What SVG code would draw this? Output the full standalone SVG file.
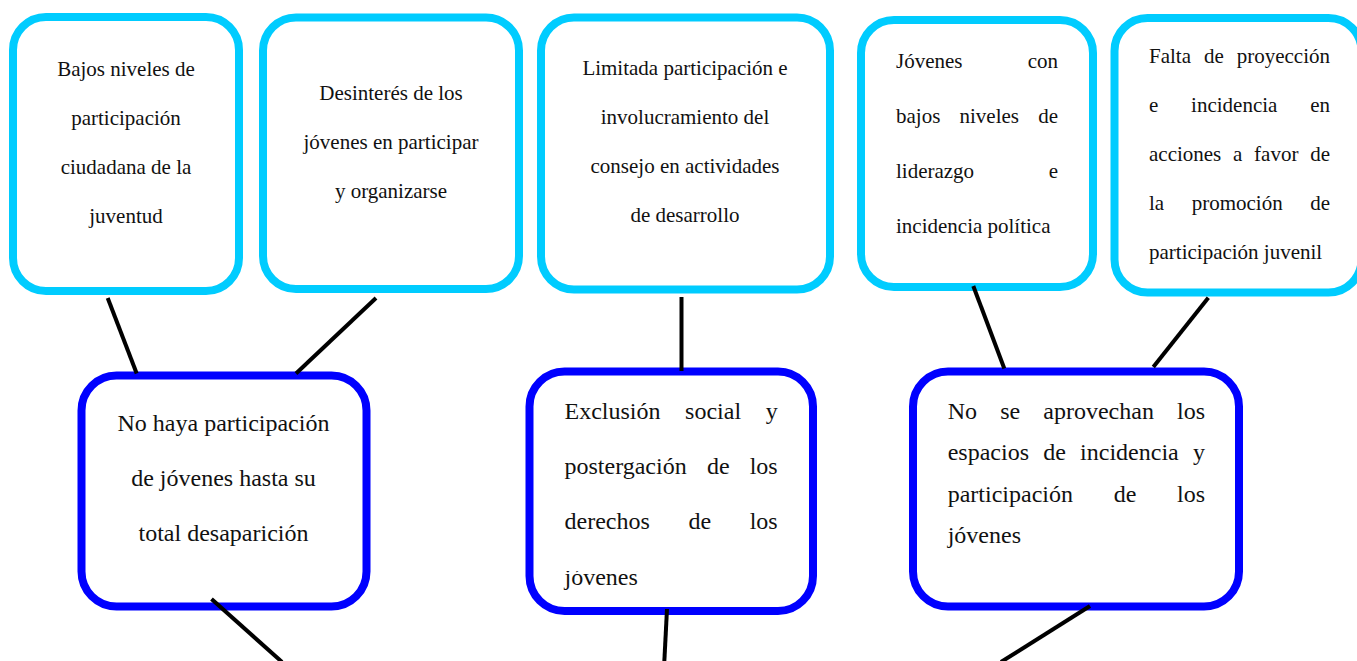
<svg xmlns="http://www.w3.org/2000/svg" width="1357" height="661" viewBox="0 0 1357 661">
<style>
.top{fill:#fff;stroke:#00ccff;stroke-width:8}
.bot{fill:#fff;stroke:#0000ff;stroke-width:8}
.t21{font-family:"Liberation Serif","Times New Roman",serif;font-size:21px;fill:#111}
.t24{font-family:"Liberation Serif","Times New Roman",serif;font-size:24px;fill:#111}
.c{text-anchor:middle}
.e{text-anchor:end}
.ln{stroke:#000;stroke-width:4;fill:none}
</style>
<defs>
<clipPath id="clipB2"><rect x="520" y="571" width="300" height="36"/></clipPath>
</defs>
<rect width="1357" height="661" fill="#fff"/>
<g id="n1">
<rect class="top" x="13" y="17" width="226" height="274" rx="33"/>
<text class="t21 c" x="126" y="76">Bajos niveles de</text>
<text class="t21 c" x="126" y="125">participación</text>
<text class="t21 c" x="126" y="174">ciudadana de la</text>
<text class="t21 c" x="126" y="223">juventud</text>
</g>
<g id="n2">
<rect class="top" x="263" y="17.5" width="256" height="271.5" rx="33"/>
<text class="t21 c" x="391" y="100">Desinterés de los</text>
<text class="t21 c" x="391" y="149">jóvenes en participar</text>
<text class="t21 c" x="391" y="198">y organizarse</text>
</g>
<g id="n3">
<rect class="top" x="541" y="17.5" width="289" height="272" rx="33"/>
<text class="t21 c" x="685" y="75">Limitada participación e</text>
<text class="t21 c" x="685" y="124">involucramiento del</text>
<text class="t21 c" x="685" y="173">consejo en actividades</text>
<text class="t21 c" x="685" y="222">de desarrollo</text>
</g>
<g id="n4">
<rect class="top" x="861" y="20" width="232" height="267" rx="33"/>
<text class="t21" x="896" y="68">Jóvenes</text>
<text class="t21 e" x="1058" y="68">con</text>
<text class="t21" x="896" y="123">bajos</text>
<text class="t21" x="959.5" y="123">niveles</text>
<text class="t21 e" x="1058" y="123">de</text>
<text class="t21" x="896" y="178">liderazgo</text>
<text class="t21 e" x="1058" y="178">e</text>
<text class="t21" x="896" y="232.5">incidencia política</text>
</g>
<g id="n5">
<rect class="top" x="1114.5" y="18" width="247" height="274.5" rx="33"/>
<text class="t21" x="1149" y="63">Falta</text>
<text class="t21" x="1203.9" y="63">de</text>
<text class="t21 e" x="1330" y="63">proyección</text>
<text class="t21" x="1149" y="112">e</text>
<text class="t21" x="1191.1" y="112">incidencia</text>
<text class="t21 e" x="1330" y="112">en</text>
<text class="t21" x="1149" y="161">acciones</text>
<text class="t21" x="1233" y="161">a</text>
<text class="t21" x="1254.1" y="161">favor</text>
<text class="t21 e" x="1330" y="161">de</text>
<text class="t21" x="1149" y="210">la</text>
<text class="t21" x="1191.7" y="210">promoción</text>
<text class="t21 e" x="1330" y="210">de</text>
<text class="t21" x="1149" y="259">participación juvenil</text>
</g>
<g id="n6">
<rect class="bot" x="81.5" y="375.5" width="285" height="231" rx="35"/>
<text class="t24 c" x="223.5" y="431">No haya participación</text>
<text class="t24 c" x="223.5" y="486">de jóvenes hasta su</text>
<text class="t24 c" x="223.5" y="541">total desaparición</text>
</g>
<g id="n7">
<rect class="bot" x="529.5" y="371.5" width="283.5" height="239.5" rx="35"/>
<text class="t24" x="564.5" y="419">Exclusión</text>
<text class="t24" x="685.1" y="419">social</text>
<text class="t24 e" x="777.7" y="419">y</text>
<text class="t24" x="564.5" y="474">postergación</text>
<text class="t24" x="707.1" y="474">de</text>
<text class="t24 e" x="777.7" y="474">los</text>
<text class="t24" x="564.5" y="529">derechos</text>
<text class="t24" x="688.4" y="529">de</text>
<text class="t24 e" x="777.7" y="529">los</text>
<text class="t24" x="564.5" y="584.5" clip-path="url(#clipB2)">jóvenes</text>
</g>
<g id="n8">
<rect class="bot" x="913" y="371.5" width="326" height="235" rx="35"/>
<text class="t24" x="947.7" y="419">No</text>
<text class="t24" x="1000.2" y="419">se</text>
<text class="t24" x="1043.3" y="419">aprovechan</text>
<text class="t24 e" x="1205" y="419">los</text>
<text class="t24" x="947.7" y="460">espacios</text>
<text class="t24" x="1043.2" y="460">de</text>
<text class="t24" x="1080.1" y="460">incidencia</text>
<text class="t24 e" x="1205" y="460">y</text>
<text class="t24" x="947.7" y="501.5">participación</text>
<text class="t24" x="1113.7" y="501.5">de</text>
<text class="t24 e" x="1205" y="501.5">los</text>
<text class="t24" x="947.7" y="543">jóvenes</text>
</g>
<g id="connectors">
<line class="ln" x1="107.7" y1="298" x2="136.7" y2="373.5"/>
<line class="ln" x1="376" y1="298" x2="296" y2="373.5"/>
<line class="ln" x1="681.5" y1="297" x2="681.5" y2="371"/>
<line class="ln" x1="973.3" y1="286" x2="1004.3" y2="368.5"/>
<line class="ln" x1="1208.3" y1="297.7" x2="1153.3" y2="367"/>
<line class="ln" x1="211.5" y1="599" x2="282" y2="662"/>
<line class="ln" x1="667" y1="609" x2="664.3" y2="662"/>
<line class="ln" x1="1090" y1="606" x2="1001" y2="662"/>
</g>
</svg>
